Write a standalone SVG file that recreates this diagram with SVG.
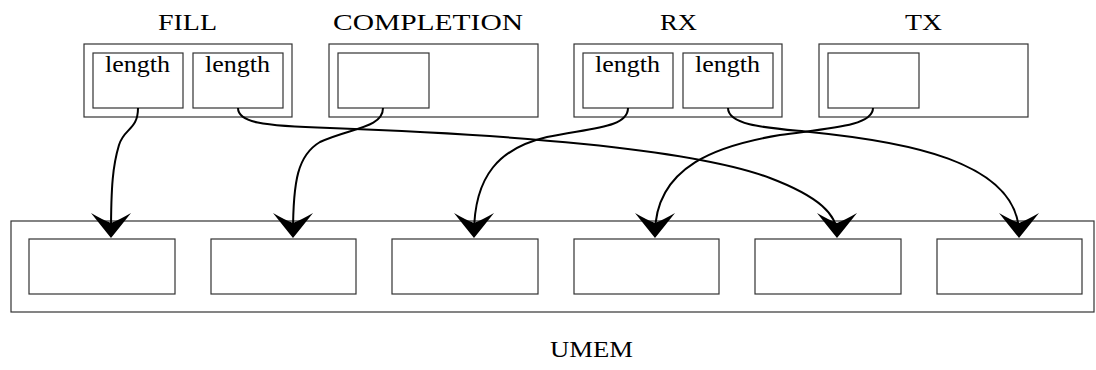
<svg xmlns="http://www.w3.org/2000/svg" width="1096" height="370" viewBox="0 0 1096 370">
<defs>
<style>
.box{fill:#fff;stroke:#333;stroke-width:1.2}
.lbl{font-family:"Liberation Serif","DejaVu Serif",serif;font-size:23px;fill:#000}
.len{font-family:"Liberation Serif","DejaVu Serif",serif;font-size:23px;fill:#000}
.wire{fill:none;stroke:#000;stroke-width:2}
</style>
<marker id="stealth" markerUnits="userSpaceOnUse" markerWidth="30" markerHeight="44" viewBox="-27 -22 30 44" refX="-4" refY="0" orient="auto">
<path d="M0,0 Q-13,-10.5 -25,-20 Q-18,-8 -15,0 Q-18,8 -25,20 Q-13,10.5 0,0 Z" fill="#000"/>
</marker>
</defs>

<g id="fill">
<rect class="box" x="84" y="44" width="208" height="73"/>
<rect class="box" x="93" y="53" width="90" height="55"/>
<rect class="box" x="193" y="53" width="90" height="55"/>
<text class="lbl" x="158" y="30" textLength="59" lengthAdjust="spacingAndGlyphs">FILL</text>
<text class="len" x="105" y="72" textLength="65" lengthAdjust="spacingAndGlyphs">length</text>
<text class="len" x="205" y="72" textLength="65" lengthAdjust="spacingAndGlyphs">length</text>
</g>

<g id="completion">
<rect class="box" x="329" y="44" width="209" height="73"/>
<rect class="box" x="338" y="53" width="91" height="55"/>
<text class="lbl" x="333" y="30" textLength="190" lengthAdjust="spacingAndGlyphs">COMPLETION</text>
</g>

<g id="rx">
<rect class="box" x="574" y="44" width="208" height="73"/>
<rect class="box" x="583" y="53" width="90" height="55"/>
<rect class="box" x="683" y="53" width="90" height="55"/>
<text class="lbl" x="660" y="30" textLength="37" lengthAdjust="spacingAndGlyphs">RX</text>
<text class="len" x="595" y="72" textLength="65" lengthAdjust="spacingAndGlyphs">length</text>
<text class="len" x="695" y="72" textLength="65" lengthAdjust="spacingAndGlyphs">length</text>
</g>

<g id="tx">
<rect class="box" x="819" y="44" width="209" height="73"/>
<rect class="box" x="828" y="53" width="91" height="55"/>
<text class="lbl" x="905" y="30" textLength="37" lengthAdjust="spacingAndGlyphs">TX</text>
</g>

<g id="umem">
<rect class="box" x="11" y="221" width="1083" height="91"/>
<rect class="box" x="29" y="239" width="146" height="55"/>
<rect class="box" x="211" y="239" width="145" height="55"/>
<rect class="box" x="392" y="239" width="146" height="55"/>
<rect class="box" x="574" y="239" width="145" height="55"/>
<rect class="box" x="755" y="239" width="146" height="55"/>
<rect class="box" x="937" y="239" width="145" height="55"/>
<text class="lbl" x="550" y="357" textLength="83" lengthAdjust="spacingAndGlyphs">UMEM</text>
</g>

<g id="connectors">
<path class="wire" marker-end="url(#stealth)" d="M138,108 C138,130 124,128 119,145 C113,165 111,185 111,234"/>
<path class="wire" marker-end="url(#stealth)" d="M238,108 C238,122 260,126 330,128 C500,134 690,148 770,178 C820,197 837,215 837,234"/>
<path class="wire" marker-end="url(#stealth)" d="M383,108 C383,128 350,128 320,142 C298,155 293,180 293,234"/>
<path class="wire" marker-end="url(#stealth)" d="M628,108 C628,128 590,128 547,137 C500,148 474,175 474,234"/>
<path class="wire" marker-end="url(#stealth)" d="M728,108 C728,126 770,128 810,132 C900,141 1019,160 1019,234"/>
<path class="wire" marker-end="url(#stealth)" d="M873,108 C873,126 830,128 780,135 C720,145 655,165 655,234"/>
</g>
</svg>
